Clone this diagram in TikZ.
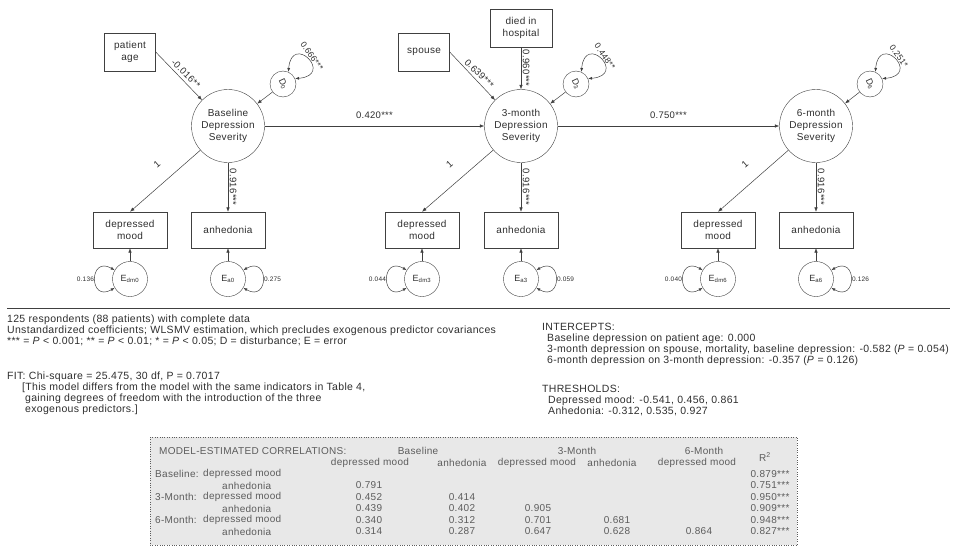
\documentclass[tikz,border=0pt]{standalone}
\usepackage{fontspec}
\setmainfont{Liberation Sans}[LetterSpace=3]
\usetikzlibrary{arrows.meta}

\definecolor{inkgray}{HTML}{404040}
\definecolor{textgray}{HTML}{2E2E2E}
\definecolor{cellgray}{HTML}{5C5C5C}
\definecolor{cellfill}{HTML}{E8E8E8}

\begin{document}
\begin{tikzpicture}
	[x=1pt, y=-1pt,
		observed/.style	={rectangle
									, draw=inkgray
									, text=textgray
									, align=center
									, inner sep=1pt
									, minimum width=74pt
									, minimum height=36pt
									, font=\fontsize{10}{11.5}\selectfont
									},
		latent/.style		={circle
									, draw=inkgray
									, text=textgray
									, align=center
									, inner sep=0pt
									, minimum size=73pt
									, font=\fontsize{10}{12}\selectfont
									},
		dcircle/.style		={circle
									, draw=inkgray
									, minimum size=26pt
									, inner sep=0pt
									},
		ecircle/.style		={circle
									, draw=inkgray
									, text=textgray
									, minimum size=35pt
									, inner sep=0pt
									, font=\fontsize{9}{10}\selectfont
									},
		dlabel/.style		={rotate=-65
									, text=textgray
									, inner sep=0pt
									, font=\fontsize{9}{10}\selectfont
									},
		coef/.style			={text=textgray
									, inner sep=1.5pt
									, font=\fontsize{9.5}{11}\selectfont
									},
		vcoef/.style		={coef
									, rotate=-90
									, anchor=south
									},
		scoef/.style		={coef
									, rotate=-45
									, anchor=south
									, inner sep=3pt
									},
		dvar/.style			={coef
									, rotate=-55
									, anchor=south
									, font=\fontsize{8.5}{10}\selectfont
									},
		variance/.style	={text=textgray
									, inner sep=1pt
									, font=\fontsize{6.5}{7}\selectfont
									},
		line/.style			={draw=inkgray
									, line width=0.5pt
									, -{Latex[length=4.5pt, width=3.5pt]}
									},
		selfloop/.style	={draw=inkgray
									, line width=0.5pt
									, {Latex[length=4pt, width=3pt]}-{Latex[length=4pt, width=3pt]}
									},
		notes/.style		={anchor=north west
									, align=left
									, inner sep=0pt
									, text=textgray
									, font=\fontsize{10.5}{11}\selectfont
									},
		cell/.style			={inner sep=0pt
									, text=cellgray
									, font=\fontsize{10}{11}\selectfont
									}
	]
\useasboundingbox (0,0) rectangle (955,551);

% predictors
\node [observed, minimum width=51pt, minimum height=38pt] (age)		at (130,52)		{patient\\age};
\node [observed, minimum width=51pt, minimum height=38pt] (spouse)	at (424,52)		{spouse};
\node [observed, minimum width=62pt, minimum height=38pt] (died)	at (521,28)		{died in\\hospital};

% latent severity
\node [latent] (base)	at (228,126)	{Baseline\\Depression\\Severity};
\node [latent] (m3)		at (521,126)	{3-month\\Depression\\Severity};
\node [latent] (m6)		at (816,126)	{6-month\\Depression\\Severity};

% disturbances
\node [dcircle, label={[dlabel]center:D\textsubscript{0}}] (d0) at (283,84) {};
\node [dcircle, label={[dlabel]center:D\textsubscript{3}}] (d3) at (576,84) {};
\node [dcircle, label={[dlabel]center:D\textsubscript{6}}] (d6) at (870,84) {};

% indicators
\node [observed] (mood0)	at (130,230)	{depressed\\mood};
\node [observed] (anh0)		at (228,230)	{anhedonia};
\node [observed] (mood3)	at (422,230)	{depressed\\mood};
\node [observed] (anh3)		at (521,230)	{anhedonia};
\node [observed] (mood6)	at (718,230)	{depressed\\mood};
\node [observed] (anh6)		at (816,230)	{anhedonia};

% errors
\node [ecircle] (emood0)	at (130,279)	{E\textsubscript{dm0}};
\node [ecircle] (eanh0)		at (228,279)	{E\textsubscript{a0}};
\node [ecircle] (emood3)	at (422,279)	{E\textsubscript{dm3}};
\node [ecircle] (eanh3)		at (521,279)	{E\textsubscript{a3}};
\node [ecircle] (emood6)	at (718,279)	{E\textsubscript{dm6}};
\node [ecircle] (eanh6)		at (816,279)	{E\textsubscript{a6}};

\begin{scope}[every path/.style=line]
	\path		(age.east)		-- node [scoef, pos=.55] {-0.016**} (base.135);
	\path		(spouse.east)	-- node [scoef, pos=.55] {0.639***} (m3.135);
	\path		(died)			-- node [vcoef] {0.960***} (m3);
	\path		(d0)			-- (base);
	\path		(d3)			-- (m3);
	\path		(d6)			-- (m6);
	\path		(base)			-- node [coef, above=6pt] {0.420***} (m3);
	\path		(m3)			-- node [coef, above=6pt] {0.750***} (m6);
	\path		(base)			-- node [coef, sloped, above=13pt, pos=.45] {1} (mood0.north);
	\path		(m3)			-- node [coef, sloped, above=13pt, pos=.45] {1} (mood3.north);
	\path		(m6)			-- node [coef, sloped, above=13pt, pos=.45] {1} (mood6.north);
	\path		(base)			-- node [vcoef] {0.916***} (anh0);
	\path		(m3)			-- node [vcoef] {0.916***} (anh3);
	\path		(m6)			-- node [vcoef] {0.916***} (anh6);
	\path		(emood0)		-- (mood0);
	\path		(eanh0)			-- (anh0);
	\path		(emood3)		-- (mood3);
	\path		(eanh3)			-- (anh3);
	\path		(emood6)		-- (mood6);
	\path		(eanh6)			-- (anh6);
\end{scope}

% variances
\path [selfloop] (d0.66) .. controls +(85:40pt) and +(5:40pt) .. node [dvar] {0.666***} (d0.24);
\path [selfloop] (d3.66) .. controls +(85:40pt) and +(5:40pt) .. node [dvar] {0.448**} (d3.24);
\path [selfloop] (d6.66) .. controls +(85:40pt) and +(5:40pt) .. node [dvar] {0.251*} (d6.24);
\path [selfloop] (emood0.150) .. controls +(150:30pt) and +(210:30pt) .. node [variance, left] {0.136} (emood0.210);
\path [selfloop] (eanh0.30) .. controls +(30:30pt) and +(-30:30pt) .. node [variance, right] {0.275} (eanh0.-30);
\path [selfloop] (emood3.150) .. controls +(150:30pt) and +(210:30pt) .. node [variance, left] {0.044} (emood3.210);
\path [selfloop] (eanh3.30) .. controls +(30:30pt) and +(-30:30pt) .. node [variance, right] {0.059} (eanh3.-30);
\path [selfloop] (emood6.150) .. controls +(150:30pt) and +(210:30pt) .. node [variance, left] {0.040} (emood6.210);
\path [selfloop] (eanh6.30) .. controls +(30:30pt) and +(-30:30pt) .. node [variance, right] {0.126} (eanh6.-30);

\draw [inkgray, line width=0.6pt] (7,308) -- (950,308);

% notes
\node [notes] (sample) at (7,315) {125 respondents (88 patients) with complete data\\
Unstandardized coefficients; WLSMV estimation, which precludes exogenous predictor covariances\\
*** = \textit{P} < 0.001; ** = \textit{P} < 0.01; * = \textit{P} < 0.05; D = disturbance; E = error};
\node [notes] (fit) at (7,372) {FIT: Chi-square = 25.475, 30 df, P = 0.7017\\
\hspace*{15pt}[This model differs from the model with the same indicators in Table 4,\\
\hspace*{18pt}gaining degrees of freedom with the introduction of the three\\
\hspace*{18pt}exogenous predictors.]};
\node [notes] (intercepts) at (542,323) {INTERCEPTS:\\
\hspace*{5pt}Baseline depression on patient age: 0.000\\
\hspace*{5pt}3-month depression on spouse, mortality, baseline depression: -0.582 (\textit{P} = 0.054)\\
\hspace*{5pt}6-month depression on 3-month depression: -0.357 (\textit{P} = 0.126)};
\node [notes] (thresholds) at (542,385) {THRESHOLDS:\\
\hspace*{6pt}Depressed mood: -0.541, 0.456, 0.861\\
\hspace*{6pt}Anhedonia: -0.312, 0.535, 0.927};

% correlation table
\draw [cellgray, dotted, fill=cellfill] (150,437) rectangle (797,545);
\node [cell, anchor=west] (corr title) at (159,451) {MODEL-ESTIMATED CORRELATIONS:};
\node [cell] (head base)	at (418,451)	{Baseline};
\node [cell] (head m3)		at (577,451)	{3-Month};
\node [cell] (head m6)		at (704,451)	{6-Month};
\node [cell] (head r2)		at (765,457)	{R\textsuperscript{2}};
\foreach \x/\txt [count=\i] in {370/depressed mood, 462/anhedonia, 537/depressed mood, 612/anhedonia, 697/depressed mood}
	\node [cell] (sub \i) at (\x,462.5) {\txt};
\foreach \y/\wave [count=\i] in {474/Baseline:, 497/3-Month:, 520/6-Month:}
	{
	\node [cell, anchor=west] (wave \i) at (155,\y) {\wave};
	\node [cell, anchor=west] (mood row \i) at (203,\y) {depressed mood};
	\node [cell, anchor=west] (anh row \i) at (222,\y+11.5) {anhedonia};
	}
\foreach \x/\y/\v [count=\i] in {369/485.5/0.791, 369/497/0.452, 462/497/0.414, 369/508.5/0.439, 462/508.5/0.402, 538/508.5/0.905,
		369/520/0.340, 462/520/0.312, 538/520/0.701, 617/520/0.681,
		369/531.5/0.314, 462/531.5/0.287, 538/531.5/0.647, 617/531.5/0.628, 699/531.5/0.864}
	\node [cell] (val \i) at (\x,\y) {\v};
\foreach \y/\v [count=\i] in {474/0.879, 485.5/0.751, 497/0.950, 508.5/0.909, 520/0.948, 531.5/0.827}
	\node [cell] (rsq \i) at (770,\y) {\v***};
\end{tikzpicture}
\end{document}
